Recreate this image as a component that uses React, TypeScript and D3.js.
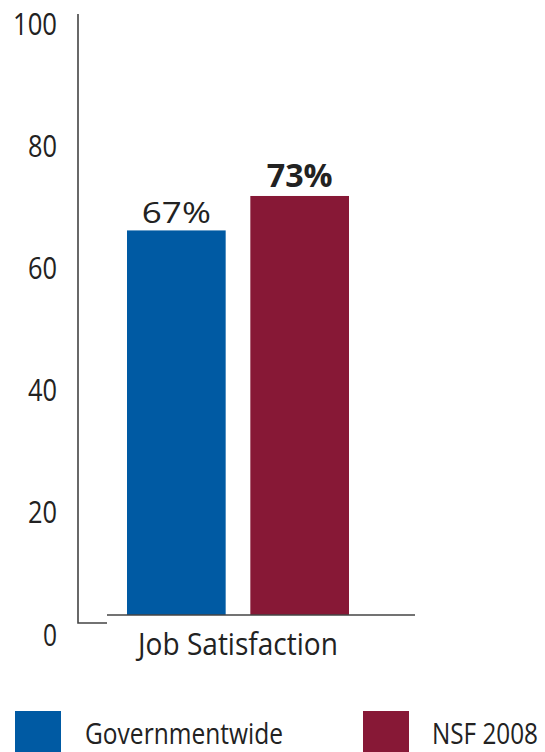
import React from "react";
import * as d3 from "d3";

const categories = ["Job Satisfaction"];
const seriesNames = ["Governmentwide", "NSF 2008"];
const seriesValues = [67, 73];
const valueLabels = ["67%", "73%"];
const seriesColors = ["#005AA3", "#871836"];
const tickValues = [0, 20, 40, 60, 80, 100];

const FONT = "'Open Sans', sans-serif";

let ctx: CanvasRenderingContext2D | null = null;
function measure(str: string, size: number, weight: number) {
  if (!ctx) ctx = document.createElement("canvas").getContext("2d");
  if (!ctx) return str.length * size * 0.55;
  ctx.font = `${weight} ${size}px 'Open Sans', sans-serif`;
  return ctx.measureText(str).width;
}

function FitText(props: {
  x: number;
  y: number;
  text: string;
  size: number;
  weight?: number;
  width: number;
  anchor?: "start" | "middle" | "end";
}) {
  const w = props.weight ?? 400;
  const natural = measure(props.text, props.size, w);
  const sx = props.width / natural;
  return (
    <text
      transform={`translate(${props.x},${props.y}) scale(${sx},1)`}
      textAnchor={props.anchor ?? "start"}
      fontFamily={FONT}
      fontSize={props.size}
      fontWeight={w}
      fill="#222"
    >
      {props.text}
    </text>
  );
}

export default function App() {
  const W = 545;
  const H = 752;
  // tick label scale (label centres)
  const yTick = d3.scaleLinear().domain([0, 100]).range([634, 23]);
  // bar scale
  const yBar = d3.scaleLinear().domain([0, 100]).range([615, 41]);
  const x = d3.scaleBand<string>().domain(seriesNames).range([127, 349]).paddingInner(0.2);
  const tickWidths: Record<string, number> = { "100": 44, "80": 29, "60": 29, "40": 29, "20": 29, "0": 14 };
  const legendX = [15, 363];
  const legendTextX = [85, 432];
  const legendTextW = [198, 106];

  return (
    <svg width={W} height={H} style={{ position: "absolute", left: 0, top: 0, background: "#fff" }}>
      <rect x={0} y={0} width={W} height={H} fill="#fff" />
      {tickValues.map((t) => (
        <FitText
          key={t}
          x={57}
          y={yTick(t) + 11.5}
          text={String(t)}
          size={31}
          width={tickWidths[String(t)]}
          anchor="end"
        />
      ))}
      {/* axis */}
      <path d={`M78,14 V623 H107`} fill="none" stroke="#444" strokeWidth={1.6} />
      {seriesNames.map((s, i) => (
        <rect
          key={s}
          x={x(s)}
          y={yBar(seriesValues[i])}
          width={x.bandwidth()}
          height={yBar(0) - yBar(seriesValues[i])}
          fill={seriesColors[i]}
        />
      ))}
      <line x1={107} x2={415} y1={615} y2={615} stroke="#444" strokeWidth={1.6} />
      {seriesNames.map((s, i) => (
        <FitText
          key={s}
          x={(x(s) as number) + x.bandwidth() / 2}
          y={yBar(seriesValues[i]) - (i === 0 ? 7 : 9)}
          text={valueLabels[i]}
          size={i === 0 ? 29 : 32}
          weight={i === 0 ? 400 : 700}
          width={i === 0 ? 69 : 66}
          anchor="middle"
        />
      ))}
      {categories.map((c) => (
        <FitText key={c} x={238} y={655} text={c} size={31} width={200} anchor="middle" />
      ))}
      {seriesNames.map((s, i) => (
        <g key={s}>
          <rect x={legendX[i]} y={711} width={46} height={46} fill={seriesColors[i]} />
          <FitText x={legendTextX[i]} y={743.5} text={s} size={29} width={legendTextW[i]} />
        </g>
      ))}
    </svg>
  );
}
